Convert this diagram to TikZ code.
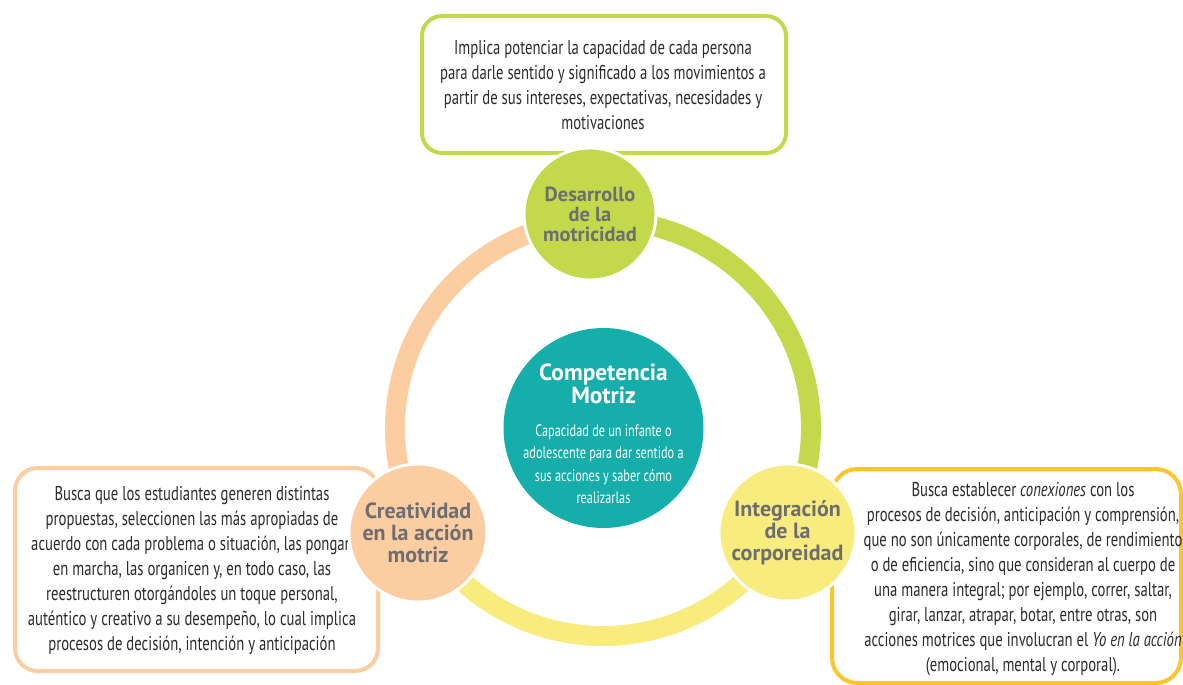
\documentclass[tikz,border=0pt]{standalone}
\usepackage{fontspec}
\setmainfont{PT Sans}
\newfontfamily\bodyf[FakeStretch=0.735]{PT Sans}
\definecolor{limeg}{HTML}{C4D84B}
\definecolor{peach}{HTML}{FCCDA0}
\definecolor{softyel}{HTML}{F9EC7E}
\definecolor{goldb}{HTML}{FCC42D}
\definecolor{tealc}{HTML}{15AEAA}
\definecolor{labgray}{HTML}{6D6E71}
\definecolor{bodyc}{HTML}{2B2B2B}
\begin{document}
\begin{tikzpicture}[x=0.75pt,y=-0.75pt,
  boxst/.style={draw, line width=3pt, fill=white, inner sep=0pt},
  bubble/.style={circle, draw=white, line width=2.2pt, inner sep=0pt, text=labgray, align=center,
    font=\bfseries\fontsize{16.5}{16.5}\selectfont},
  bodytxt/.style={font=\bodyf\fontsize{15}{18.75}\selectfont, text=bodyc, align=center, inner sep=0pt},
  ringarc/.style={line width=15pt}]
\useasboundingbox (0,0) rectangle (1183,685);
\coordinate (ringc) at (603,428);
% ring arcs
\draw[ringarc, draw=peach] ([shift={(150.2:208)}]ringc) arc[start angle=150.2, end angle=266.5, radius=208];
\draw[ringarc, draw=limeg] ([shift={(266.5:208)}]ringc) arc[start angle=266.5, end angle=389.8, radius=208];
\draw[ringarc, draw=softyel] ([shift={(29.8:208)}]ringc) arc[start angle=29.8, end angle=150.2, radius=208];
% boxes
\node[boxst, draw=limeg, minimum width=273pt, minimum height=102.75pt, rounded corners=15pt] (topbox) at (604,84.5) {};
\node[bodytxt] (toptext) at (603,85.5) {Implica potenciar la capacidad de cada persona\\para darle sentido y significado a los movimientos a\\partir de sus intereses, expectativas, necesidades y\\motivaciones};
\node[boxst, draw=peach, minimum width=272.25pt, minimum height=152.25pt, rounded corners=17pt] (leftbox) at (196.5,569.5) {};
\node[bodytxt] (lefttext) at (192,570.5) {Busca que los estudiantes generen distintas\\propuestas, seleccionen las más apropiadas de\\acuerdo con cada problema o situación, las pongan\\en marcha, las organicen y, en todo caso, las\\reestructuren otorgándoles un toque personal,\\auténtico y creativo a su desempeño, lo cual implica\\procesos de decisión, intención y anticipación};
\node[boxst, draw=goldb, minimum width=261.75pt, minimum height=160.5pt, rounded corners=19pt] (rightbox) at (1006.5,576) {};
\node[bodytxt] (righttext) at (1023,579) {Busca establecer \textit{conexiones} con los\\procesos de decisión, anticipación y comprensión,\\que no son únicamente corporales, de rendimiento\\o de eficiencia, sino que consideran al cuerpo de\\una manera integral; por ejemplo, correr, saltar,\\girar, lanzar, atrapar, botar, entre otras, son\\acciones motrices que involucran el \textit{Yo en la acción}\\(emocional, mental y corporal).};
% circles
\node[bubble, fill=limeg, minimum size=99pt, font=\bfseries\fontsize{15.3}{15}\selectfont] (desa) at (590,214) {Desarrollo\\de la\\motricidad};
\node[bubble, fill=peach, minimum size=103.5pt] (crea) at (418,533) {Creatividad\\en la acción\\motriz};
\node[bubble, fill=softyel, minimum size=102.75pt] (integ) at (787.5,532.5) {Integración\\de la\\corporeidad};
\node[circle, fill=tealc, minimum size=150pt, inner sep=0pt] (comp) at (603.5,428) {};
\node[font=\bfseries\fontsize{17.5}{17.25}\selectfont, text=white, align=center, inner sep=0pt] (comptitle) at (603.5,383.5) {Competencia\\Motriz};
\node[font=\bodyf\fontsize{12.5}{16.9}\selectfont, text=white, align=center, inner sep=0pt] (compbody) at (603.5,464) {Capacidad de un infante o\\adolescente para dar sentido a\\sus acciones y saber cómo\\realizarlas};
\end{tikzpicture}
\end{document}
